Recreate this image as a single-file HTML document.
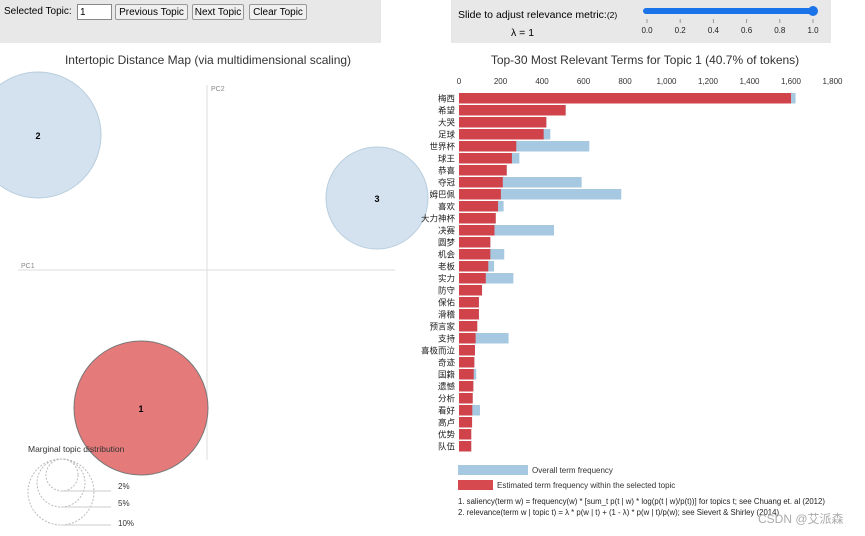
<!DOCTYPE html>
<html><head><meta charset="utf-8"><style>
body{margin:0;width:865px;height:536px;background:#fff;font-family:"Liberation Sans","Noto Sans CJK SC",sans-serif;position:relative;overflow:hidden}
.panel{position:absolute;background:#e8e8e8}
button{position:absolute;font:10px "Liberation Sans",sans-serif;height:16px;padding:0;border:1px solid #999;background:#f0f0f0;border-radius:2px;box-sizing:border-box;text-align:center}
</style></head><body>
<div class="panel" style="left:0;top:0;width:381px;height:43px"></div>
<div style="position:absolute;left:4px;top:6px;font-size:10px">Selected Topic:</div>
<input value="1" style="position:absolute;left:77px;top:4px;width:29px;height:12px;font-size:10px;padding:1px 2px;border:1px solid #888">
<button style="left:115px;top:4px;width:73px">Previous Topic</button>
<button style="left:192px;top:4px;width:52px">Next Topic</button>
<button style="left:249px;top:4px;width:58px">Clear Topic</button>
<div class="panel" style="left:451px;top:0;width:380px;height:43px"></div>
<div style="position:absolute;left:458px;top:9px;font-size:10.5px">Slide to adjust relevance metric:<span style="font-size:8.5px">(2)</span></div>
<div style="position:absolute;left:511px;top:27px;font-size:10.5px">λ = 1</div>
<svg width="865" height="536" style="position:absolute;left:0;top:0" id="s">
<g>
<line x1="646" y1="11" x2="813" y2="11" stroke="#1a73e8" stroke-width="6" stroke-linecap="round"/>
<circle cx="813" cy="11" r="5" fill="#1a73e8"/>
</g>
<text x="208" y="64" font-size="12" text-anchor="middle" fill="#333">Intertopic Distance Map (via multidimensional scaling)</text>
<text x="645" y="64" font-size="12" text-anchor="middle" fill="#333">Top-30 Most Relevant Terms for Topic 1 (40.7% of tokens)</text>
<line x1="207" y1="85" x2="207" y2="460" stroke="#ddd"/>
<line x1="18" y1="270" x2="395" y2="270" stroke="#ddd"/>
<text x="211" y="91" font-size="7" fill="#888">PC2</text>
<text x="21" y="268" font-size="7" fill="#888">PC1</text>
<g><circle cx="38" cy="135" r="63" fill="#d3e2ee" stroke="#b8cddd"/><text x="38" y="139" font-size="9" font-weight="bold" text-anchor="middle">2</text></g>
<g><circle cx="377" cy="198" r="51" fill="#d3e2ee" stroke="#b8cddd"/><text x="377" y="202" font-size="9" font-weight="bold" text-anchor="middle">3</text></g>
<g><circle cx="141" cy="408" r="67" fill="#e57a7a" stroke="#777"/><text x="141" y="412" font-size="9" font-weight="bold" text-anchor="middle">1</text></g>
<text x="28" y="452" font-size="8.5" fill="#333">Marginal topic distribution</text>
<g stroke="#bbb" fill="none" stroke-dasharray="2,1.5">
<circle cx="61" cy="492" r="33"/><circle cx="61" cy="483" r="24"/><circle cx="62" cy="475" r="16"/>
</g>
<g stroke="#ccc"><line x1="62" y1="491" x2="111" y2="491"/><line x1="61" y1="507" x2="111" y2="507"/><line x1="61" y1="525" x2="111" y2="525"/></g>
<g font-size="8" fill="#333"><text x="118" y="489">2%</text><text x="118" y="506">5%</text><text x="118" y="526">10%</text></g>
<g id="bars"></g>
<rect x="458" y="465" width="70" height="10" fill="#a6c8e0"/>
<text x="532" y="473" font-size="8" fill="#333">Overall term frequency</text>
<rect x="458" y="480" width="35" height="10" fill="#d64a4f"/>
<text x="497" y="488" font-size="8" fill="#333">Estimated term frequency within the selected topic</text>
<text x="458" y="504" font-size="7.8" fill="#222">1. saliency(term w) = frequency(w) * [sum_t p(t | w) * log(p(t | w)/p(t))] for topics t; see Chuang et. al (2012)</text>
<text x="458" y="515" font-size="7.8" fill="#222">2. relevance(term w | topic t) = λ * p(w | t) + (1 - λ) * p(w | t)/p(w); see Sievert &amp; Shirley (2014)</text>
<text x="758" y="523" font-size="12" fill="#aaa">CSDN @艾派森</text>
</svg>
<script>
const sliderTicks=["0.0","0.2","0.4","0.6","0.8","1.0"];
const terms=["梅西","希望","大哭","足球","世界杯","球王","恭喜","夺冠","姆巴佩","喜欢","大力神杯","决赛","圆梦","机会","老板","实力","防守","保佑","滑稽","预言家","支持","喜极而泣","奇迹","国籍","遗憾","分析","看好","高卢","优势","队伍"];
const overall=[1622,514,421,440,628,291,230,591,782,215,177,458,151,218,169,262,111,96,96,88,239,77,74,83,69,66,101,63,59,59];
const estimated=[1600,514,421,408,276,255,230,211,202,188,177,171,151,151,141,129,111,96,96,88,80,77,74,71,69,66,64,63,59,59];
const xTicks=[0,200,400,600,800,1000,1200,1400,1600,1800];
const NS="http://www.w3.org/2000/svg";
const s=document.getElementById('s'),g=document.getElementById('bars');
const x=v=>459+v*0.2075, y=i=>93+i*12;
function mk(t,a,p){const e=document.createElementNS(NS,t);for(const k in a)e.setAttribute(k,a[k]);(p||g).appendChild(e);return e;}
sliderTicks.forEach((t,i)=>{const px=647+i*33.2;
mk('line',{x1:px,y1:19,x2:px,y2:23,stroke:'#999'},s);
const e=mk('text',{x:px,y:33,'font-size':8,'text-anchor':'middle',fill:'#222'},s);e.textContent=t;

});
xTicks.forEach(v=>{const e=mk('text',{x:x(v),y:84,'font-size':8,'text-anchor':'middle',fill:'#333'});
e.textContent=v.toLocaleString('en-US');

});
terms.forEach((t,i)=>{
const b=mk('rect',{x:x(0),y:y(i),width:x(overall[i])-x(0),height:10.5,fill:'#a6c8e0'});


const r=mk('rect',{x:x(0),y:y(i),width:x(estimated[i])-x(0),height:10.5,fill:'#d0434b'});


const l=mk('text',{x:455,y:y(i)+8.5,'font-size':8.5,'text-anchor':'end',fill:'#222'});l.textContent=t;


});
</script>
</body></html>
